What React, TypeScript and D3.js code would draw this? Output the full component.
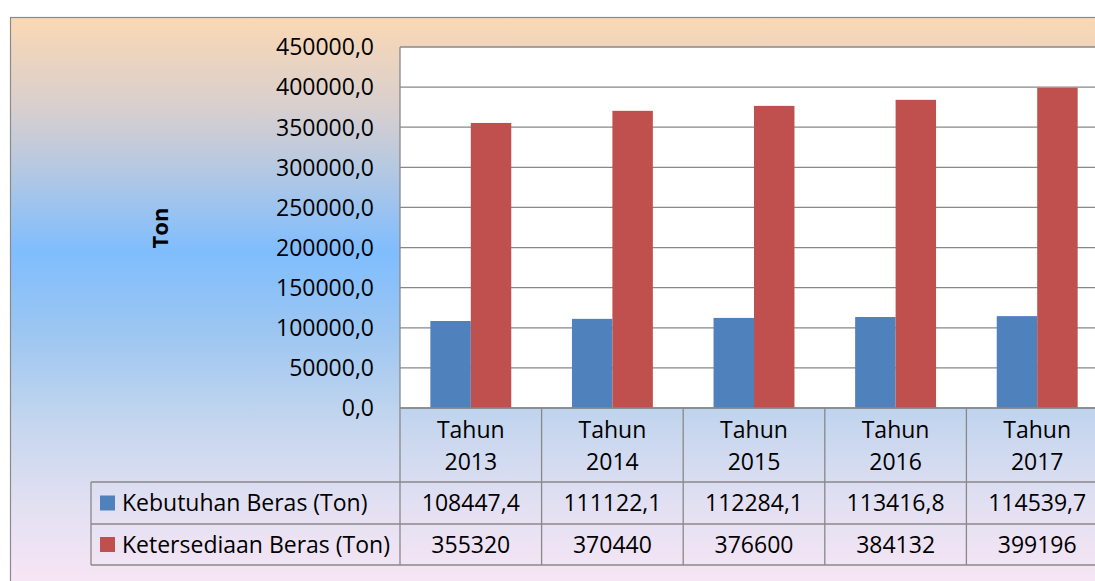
import React from "react";
import * as d3 from "d3";

const categories = ["Tahun 2013", "Tahun 2014", "Tahun 2015", "Tahun 2016", "Tahun 2017"];
const seriesNames = ["Kebutuhan Beras (Ton)", "Ketersediaan Beras (Ton)"];
const kebutuhan = [108447.4, 111122.1, 112284.1, 113416.8, 114539.7];
const ketersediaan = [355320, 370440, 376600, 384132, 399196];
const kebutuhanLabels = ["108447,4", "111122,1", "112284,1", "113416,8", "114539,7"];
const ketersediaanLabels = ["355320", "370440", "376600", "384132", "399196"];
const yTicks = [0, 50000, 100000, 150000, 200000, 250000, 300000, 350000, 400000, 450000];

const colors = ["#4F81BD", "#C0504D"];
const FONT = "'Open Sans', Lato, sans-serif";

const width = 1095;
const height = 581;
const plot = { left: 400, right: 1108, top: 47, bottom: 408 };
const rows = { header: 482, r1: 524, r2: 565 };
const legendLeft = 91;

const fmt = (v: number) => d3.format(".1f")(v).replace(".", ",");

export default function App() {
  const x = d3.scaleBand<string>().domain(categories).range([plot.left, plot.right]);
  const inner = d3
    .scaleBand<number>()
    .domain([0, 1])
    .range([0, x.bandwidth()])
    .paddingInner(0)
    .paddingOuter(0.75);
  const y = d3.scaleLinear().domain([0, 450000]).range([plot.bottom, plot.top]);

  const series = [kebutuhan, ketersediaan];
  const labels = [kebutuhanLabels, ketersediaanLabels];
  const rowMid = [(rows.header + rows.r1) / 2, (rows.r1 + rows.r2) / 2];

  return (
    <svg
      width={width}
      height={height}
      style={{ position: "absolute", left: 0, top: 0, display: "block" }}
      fontFamily={FONT}
    >
      <defs>
        <linearGradient id="bg" gradientUnits="userSpaceOnUse" x1="0" y1="17" x2="0" y2="590">
          <stop offset="0" stopColor="#FBD8B4" />
          <stop offset="0.16" stopColor="#D8CFCF" />
          <stop offset="0.27" stopColor="#B3C8E3" />
          <stop offset="0.41" stopColor="#7FBDFE" />
          <stop offset="0.55" stopColor="#9CC6F1" />
          <stop offset="0.71" stopColor="#C5D6EE" />
          <stop offset="0.85" stopColor="#E2E0F2" />
          <stop offset="1" stopColor="#F9E6F5" />
        </linearGradient>
      </defs>
      <rect x={0} y={0} width={width} height={height} fill="#ffffff" />
      <rect x={10.5} y={17.5} width={width} height={height} fill="url(#bg)" stroke="#8a8a8a" strokeWidth={1.2} />

      {/* plot area */}
      <rect x={plot.left} y={plot.top} width={plot.right - plot.left} height={plot.bottom - plot.top} fill="#ffffff" />
      {yTicks.map((t) => (
        <line key={t} x1={plot.left} x2={plot.right} y1={y(t)} y2={y(t)} stroke="#888888" strokeWidth={1.3} />
      ))}
      <line x1={plot.left} x2={plot.left} y1={plot.top} y2={rows.r2} stroke="#888888" strokeWidth={1.3} />
      {yTicks.map((t) => (
        <text key={t} x={374} y={y(t)} dy="0.36em" textAnchor="end" fontSize={23} fill="#000">
          {fmt(t)}
        </text>
      ))}
      <text
        transform="translate(168,228) rotate(-90)"
        textAnchor="middle"
        fontSize={22}
        fontWeight="bold"
        fill="#000"
      >
        Ton
      </text>

      {/* bars */}
      {series.map((vals, si) =>
        vals.map((v, i) => (
          <rect
            key={`${si}-${i}`}
            x={(x(categories[i]) as number) + (inner(si) as number)}
            y={y(v)}
            width={inner.bandwidth()}
            height={plot.bottom - y(v)}
            fill={colors[si]}
          />
        ))
      )}

      {/* data table */}
      <line x1={plot.left} x2={plot.right} y1={plot.bottom} y2={plot.bottom} stroke="#888888" strokeWidth={1.3} />
      {[rows.header, rows.r1, rows.r2].map((ry) => (
        <line key={ry} x1={legendLeft} x2={plot.right} y1={ry} y2={ry} stroke="#888888" strokeWidth={1.3} />
      ))}
      <line x1={legendLeft} x2={legendLeft} y1={rows.header} y2={rows.r2} stroke="#888888" strokeWidth={1.3} />
      {categories.map((c) => (
        <line
          key={c}
          x1={(x(c) as number) + x.bandwidth()}
          x2={(x(c) as number) + x.bandwidth()}
          y1={plot.bottom}
          y2={rows.r2}
          stroke="#888888"
          strokeWidth={1.3}
        />
      ))}
      {categories.map((c) => {
        const cx = (x(c) as number) + x.bandwidth() / 2;
        const [w1, w2] = c.split(" ");
        return (
          <g key={c}>
            <text x={cx} y={430} dy="0.36em" textAnchor="middle" fontSize={23}>
              {w1}
            </text>
            <text x={cx} y={462} dy="0.36em" textAnchor="middle" fontSize={23}>
              {w2}
            </text>
          </g>
        );
      })}
      {labels.map((ls, si) =>
        ls.map((l, i) => (
          <text
            key={`${si}-${i}`}
            x={(x(categories[i]) as number) + x.bandwidth() / 2}
            y={rowMid[si]}
            dy="0.36em"
            textAnchor="middle"
            fontSize={23}
          >
            {l}
          </text>
        ))
      )}
      {seriesNames.map((n, si) => (
        <g key={n}>
          <rect x={100} y={rowMid[si] - 7.5} width={15} height={15} fill={colors[si]} />
          <text x={122} y={rowMid[si]} dy="0.36em" fontSize={23}>
            {n}
          </text>
        </g>
      ))}
    </svg>
  );
}
